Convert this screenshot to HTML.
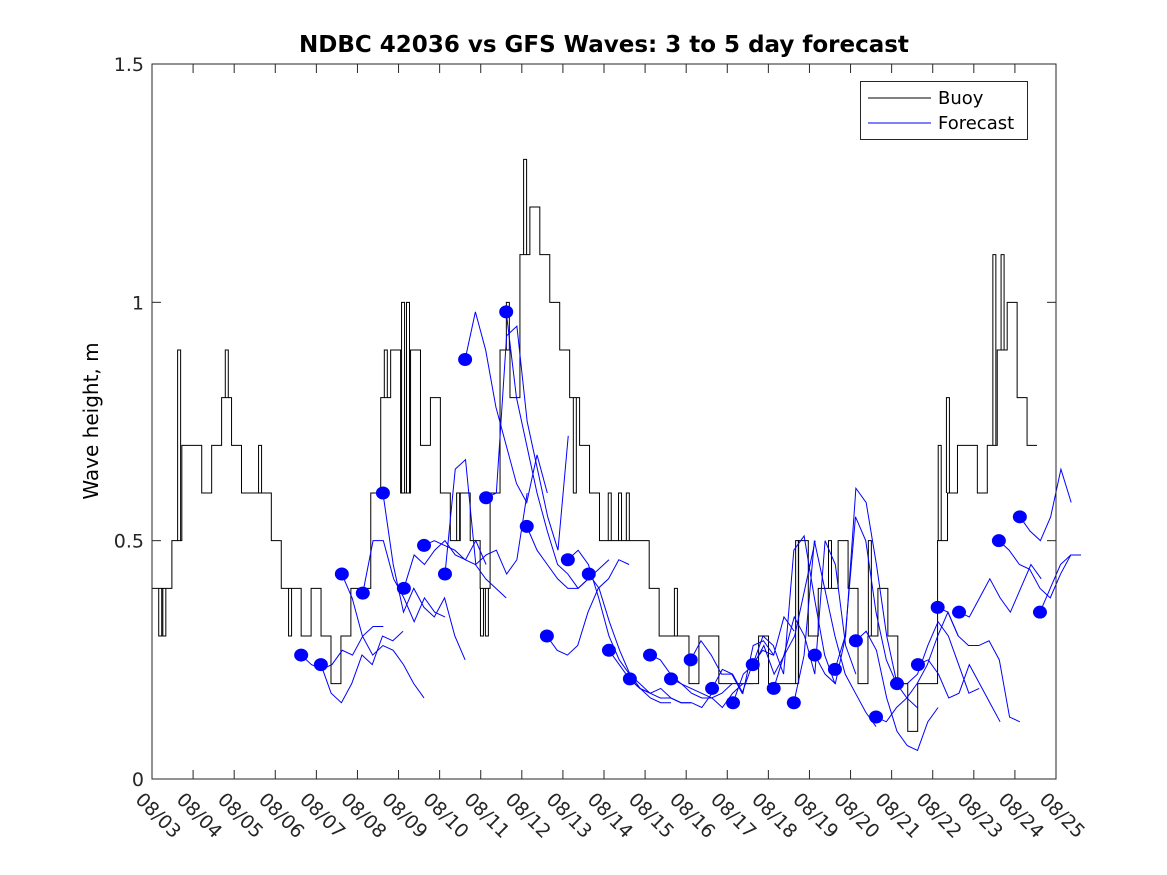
<!DOCTYPE html>
<html><head><meta charset="utf-8"><style>
html,body{margin:0;padding:0;background:#fff;}
svg{display:block;font-family:"DejaVu Sans","Liberation Sans",sans-serif;}
</style></head><body>
<svg id="chart" width="1167" height="875" viewBox="0 0 1167 875" xmlns="http://www.w3.org/2000/svg">
<rect width="1167" height="875" fill="#fff"/>
<text x="604" y="52" text-anchor="middle" font-size="23" font-weight="bold">NDBC 42036 vs GFS Waves: 3 to 5 day forecast</text>
<text transform="translate(98,421) rotate(-90)" text-anchor="middle" font-size="20">Wave height, m</text>
<g id="plot"></g>
<rect x="152" y="64" width="904" height="715" fill="none" stroke="#262626" stroke-width="1"/>
<g>
<rect x="860.5" y="81.5" width="167" height="58" fill="#fff" stroke="#262626"/>
<line x1="868" y1="98" x2="931" y2="98" stroke="#000" stroke-width="1"/>
<text x="938" y="104" font-size="18">Buoy</text>
<line x1="868" y1="123" x2="931" y2="123" stroke="#00f" stroke-width="1"/>
<text x="938" y="129" font-size="18">Forecast</text>
</g>
</svg>
<script>
const dayLabels=["08/03","08/04","08/05","08/06","08/07","08/08","08/09","08/10","08/11","08/12","08/13","08/14","08/15","08/16","08/17","08/18","08/19","08/20","08/21","08/22","08/23","08/24","08/25"];
const yTicks=[0,0.5,1,1.5];
const yTickLabels=["0","0.5","1","1.5"];
const buoyStart=0;
const buoyStep=0.242;
const buoyValues=[0.4,0.4,0.5,0.7,0.7,0.6,0.7,0.8,0.7,0.6,0.6,0.6,0.5,0.4,0.4,0.3,0.4,0.3,0.2,0.3,0.4,0.4,0.6,0.8,0.9,0.6,0.9,0.7,0.8,0.6,0.5,0.6,0.5,0.4,0.6,0.9,0.8,1.1,1.2,1.1,1.0,0.9,0.8,0.7,0.6,0.5,0.5,0.5,0.5,0.5,0.4,0.3,0.3,0.3,0.2,0.3,0.3,0.2,0.2,0.2,0.2,0.3,0.2,0.2,0.2,0.5,0.3,0.4,0.4,0.5,0.4,0.2,0.3,0.4,0.3,0.2,0.1,0.2,0.2,0.5,0.6,0.7,0.7,0.6,0.7,0.9,1.0,0.8,0.7];
const spikeDays=[0.2,0.3,0.66,1.82,2.63,3.36,5.69,6.11,6.23,7.45,7.64,8.03,8.15,8.66,9.08,10.29,11.14,11.39,11.58,12.75,15.7,16.5,17.47,19.17,19.37,20.5,20.7];
const spikeValues=[0.3,0.3,0.9,0.9,0.7,0.3,0.9,1.0,1.0,0.6,0.6,0.3,0.3,1.0,1.3,0.6,0.6,0.6,0.6,0.4,0.5,0.5,0.5,0.7,0.8,1.1,1.1];
const fcStep=0.25;
const fcStartDays=[3.63,4.11,4.62,5.13,5.62,6.13,6.62,7.13,7.62,8.13,8.62,9.12,9.61,10.12,10.63,11.12,11.63,12.12,12.63,13.11,13.63,14.14,14.62,15.13,15.62,16.13,16.62,17.13,17.62,18.13,18.64,19.12,19.64,20.61,21.12,21.61];
const fcValues=[
[0.26,0.24,0.23,0.24,0.27,0.26,0.3,0.32,0.32],
[0.24,0.18,0.16,0.2,0.26,0.24,0.3,0.29,0.31],
[0.43,0.38,0.30,0.26,0.28,0.27,0.24,0.2,0.17],
[0.39,0.5,0.5,0.42,0.38,0.33,0.38,0.35,0.34],
[0.6,0.45,0.35,0.40,0.36,0.34,0.38,0.30,0.25],
[0.40,0.47,0.45,0.48,0.50,0.47,0.46,0.5,0.45],
[0.49,0.5,0.49,0.48,0.46,0.45,0.42,0.40,0.38],
[0.43,0.65,0.67,0.45,0.47,0.48,0.43,0.46,0.60],
[0.88,0.98,0.9,0.78,0.7,0.62,0.58,0.68,0.6],
[0.59,0.6,0.93,0.95,0.75,0.65,0.55,0.48,0.72],
[0.98,0.8,0.7,0.6,0.52,0.45,0.43,0.4,0.42],
[0.53,0.48,0.45,0.42,0.40,0.40,0.42,0.44,0.46],
[0.30,0.27,0.26,0.28,0.35,0.40,0.42,0.46,0.45],
[0.46,0.48,0.45,0.38,0.30,0.25,0.22,0.20,0.18],
[0.43,0.40,0.33,0.27,0.22,0.19,0.17,0.16,0.16],
[0.27,0.24,0.21,0.19,0.18,0.17,0.17,0.16,0.16],
[0.21,0.19,0.18,0.19,0.17,0.16,0.16,0.15,0.18],
[0.26,0.25,0.22,0.20,0.19,0.18,0.17,0.18,0.20],
[0.21,0.20,0.18,0.17,0.17,0.15,0.18,0.2,0.2],
[0.25,0.29,0.26,0.22,0.22,0.18,0.24,0.27,0.26],
[0.19,0.23,0.22,0.18,0.28,0.29,0.26,0.34,0.31],
[0.16,0.22,0.24,0.28,0.22,0.26,0.30,0.40,0.50],
[0.24,0.3,0.28,0.22,0.48,0.51,0.38,0.26,0.20],
[0.19,0.26,0.34,0.30,0.22,0.5,0.45,0.28,0.22],
[0.16,0.26,0.5,0.4,0.3,0.22,0.18,0.14,0.11],
[0.26,0.22,0.2,0.3,0.61,0.58,0.45,0.3,0.2],
[0.23,0.30,0.55,0.5,0.35,0.25,0.20,0.17,0.15],
[0.29,0.31,0.27,0.17,0.10,0.07,0.06,0.12,0.15],
[0.13,0.12,0.15,0.17,0.2,0.24,0.30,0.35,0.30],
[0.20,0.20,0.22,0.28,0.33,0.30,0.24,0.18,0.19],
[0.24,0.25,0.22,0.17,0.18,0.24,0.20,0.16,0.12],
[0.36,0.35,0.30,0.28,0.28,0.29,0.25,0.13,0.12],
[0.35,0.34,0.38,0.42,0.38,0.35,0.40,0.45,0.42],
[0.50,0.48,0.45,0.44,0.40,0.38,0.43,0.47,0.47],
[0.55,0.52,0.50,0.55,0.65,0.58],
[0.35,0.40,0.45,0.47]
];
const X0=152,X1=1056,Y0=779,Y1=64,DAYS=22,YMAX=1.5;
function xs(d){return X0+(X1-X0)*d/DAYS;}
function ys(v){return Y0-(Y0-Y1)*v/YMAX;}
const NS="http://www.w3.org/2000/svg";
const plot=document.getElementById('plot');
function mk(tag,attrs){const e=document.createElementNS(NS,tag);for(const k in attrs)e.setAttribute(k,attrs[k]);plot.appendChild(e);return e;}
dayLabels.forEach((lab,i)=>{
  const x=xs(i);
  if(i>0&&i<DAYS){
    const t1=mk('line',{x1:x,y1:Y0,x2:x,y2:Y0-9,stroke:'#262626'});
    
    
    const t2=mk('line',{x1:x,y1:Y1,x2:x,y2:Y1+9,stroke:'#262626'});
    
    
  }
  const t=mk('text',{transform:`translate(${x-8},${Y0+12}) rotate(45)`,'font-size':19,'dominant-baseline':'hanging',fill:'#262626'});
  t.textContent=lab;
  
  
});
yTicks.forEach((v,i)=>{
  const y=ys(v);
  if(v>0&&v<YMAX){
    const a=mk('line',{x1:X0,y1:y,x2:X0+9,y2:y,stroke:'#262626'});
    
    
    const b=mk('line',{x1:X1,y1:y,x2:X1-9,y2:y,stroke:'#262626'});
    
    
  }
  const t=mk('text',{x:X0-8,y:y+7,'text-anchor':'end','font-size':19,fill:'#262626'});
  t.textContent=yTickLabels[i];
  
  
});
let d='';
buoyValues.forEach((v,i)=>{
  const x=xs(buoyStart+i*buoyStep),y=ys(v);
  if(i===0)d+=`M${x},${y}`;else d+=`V${y}`;
  d+=`H${xs(buoyStart+(i+1)*buoyStep)}`;
});
const bl=mk('path',{d:d,fill:'none',stroke:'#000','stroke-width':1});


let sd='';
spikeDays.forEach((day,k)=>{
  const idx=Math.min(buoyValues.length-1,Math.floor((day-buoyStart)/buoyStep));
  const base=ys(buoyValues[idx]),top=ys(spikeValues[k]),x=xs(day);
  sd+=`M${x-1.5},${base}V${top}H${x+1.5}V${base}`;
});
const sp=mk('path',{d:sd,fill:'none',stroke:'#000','stroke-width':1});


fcValues.forEach((arr,k)=>{
  const pts=arr.map((v,j)=>`${xs(fcStartDays[k]+j*fcStep)},${ys(v)}`).join(' ');
  const p=mk('polyline',{points:pts,fill:'none',stroke:'#00f','stroke-width':1});
  
  
});
fcValues.forEach((arr,k)=>{
  const c=mk('ellipse',{cx:xs(fcStartDays[k]),cy:ys(arr[0]),rx:7,ry:6.5,fill:'#00f'});
  
  
});
</script>
</body></html>
